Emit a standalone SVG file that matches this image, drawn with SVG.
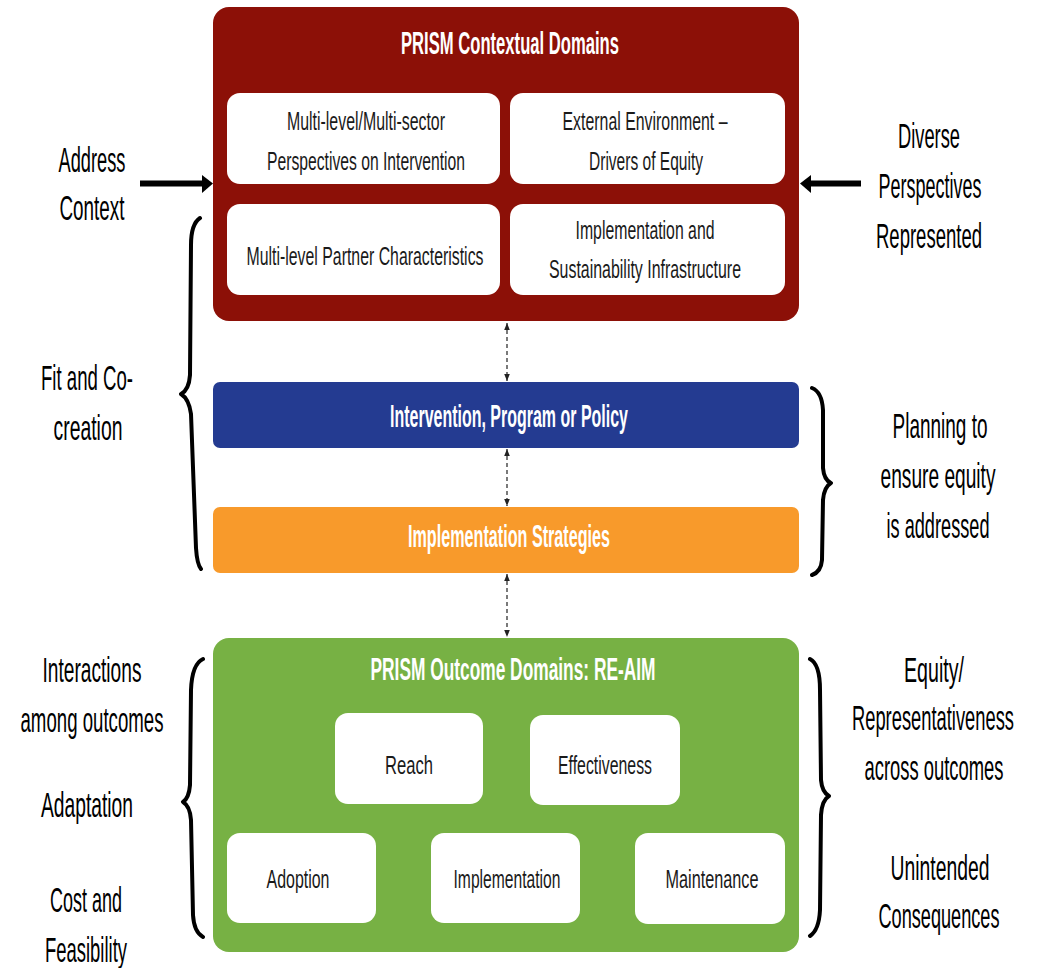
<svg xmlns="http://www.w3.org/2000/svg" width="1038" height="968" viewBox="0 0 1038 968">
<defs>
<style>
text{font-family:"Liberation Sans",Arial,sans-serif;text-anchor:middle}
.side{font-size:35px;fill:#000}
.box{font-size:26px;fill:#1a1a1a}
.ttl{font-size:32px;font-weight:bold;fill:#fff}
.wbox{fill:#fff}
.brace{fill:none;stroke:#000;stroke-width:4;stroke-linecap:round;stroke-linejoin:round}
.dash{stroke:#333;stroke-width:1.3;stroke-dasharray:4 3;fill:none}
</style>
<marker id="ah" viewBox="0 0 10 10" refX="10" refY="5" markerWidth="7" markerHeight="10" markerUnits="userSpaceOnUse" orient="auto-start-reverse">
<path d="M0,1 L10,5 L0,9 z" fill="#222"/>
</marker>
</defs>
<rect width="1038" height="968" fill="#fff"/>

<g id="contextual-domains">
<rect x="213" y="7" width="586" height="314" rx="16" fill="#8C1007"/>
<text class="ttl" x="510" y="54" textLength="218" lengthAdjust="spacingAndGlyphs">PRISM Contextual Domains</text>
</g>
<g id="box-multilevel-perspectives">
<rect class="wbox" x="227" y="93" width="273" height="91" rx="13"/>
<text class="box" x="366" y="130" textLength="158" lengthAdjust="spacingAndGlyphs">Multi-level/Multi-sector</text>
<text class="box" x="366" y="170" textLength="198" lengthAdjust="spacingAndGlyphs">Perspectives on Intervention</text>
</g>
<g id="box-external-environment">
<rect class="wbox" x="510" y="93" width="275" height="91" rx="13"/>
<text class="box" x="645" y="130" textLength="165" lengthAdjust="spacingAndGlyphs">External Environment –</text>
<text class="box" x="646" y="170" textLength="114" lengthAdjust="spacingAndGlyphs">Drivers of Equity</text>
</g>
<g id="box-partner-characteristics">
<rect class="wbox" x="227" y="204" width="273" height="91" rx="13"/>
<text class="box" x="365" y="265" textLength="237" lengthAdjust="spacingAndGlyphs">Multi-level Partner Characteristics</text>
</g>
<g id="box-infrastructure">
<rect class="wbox" x="510" y="204" width="275" height="91" rx="13"/>
<text class="box" x="645" y="239" textLength="139" lengthAdjust="spacingAndGlyphs">Implementation and</text>
<text class="box" x="645" y="278" textLength="192" lengthAdjust="spacingAndGlyphs">Sustainability Infrastructure</text>
</g>

<g id="intervention">
<rect x="213" y="382" width="586" height="66" rx="7" fill="#243B91"/>
<text class="ttl" x="509" y="427" textLength="238" lengthAdjust="spacingAndGlyphs">Intervention, Program or Policy</text>
</g>
<g id="strategies">
<rect x="213" y="507" width="586" height="66" rx="7" fill="#F89A2B"/>
<text class="ttl" x="509" y="547" textLength="202" lengthAdjust="spacingAndGlyphs">Implementation Strategies</text>
</g>

<g id="outcome-domains">
<rect x="213" y="638" width="586" height="314" rx="16" fill="#77B144"/>
<text class="ttl" x="513" y="680" textLength="285" lengthAdjust="spacingAndGlyphs">PRISM Outcome Domains: RE-AIM</text>
</g>
<g id="reach">
<rect class="wbox" x="335" y="713" width="148" height="91" rx="13"/>
<text class="box" x="409" y="774" textLength="48" lengthAdjust="spacingAndGlyphs">Reach</text>
</g>
<g id="effectiveness">
<rect class="wbox" x="530" y="715" width="150" height="90" rx="13"/>
<text class="box" x="605" y="774" textLength="94" lengthAdjust="spacingAndGlyphs">Effectiveness</text>
</g>
<g id="adoption">
<rect class="wbox" x="227" y="833" width="149" height="90" rx="13"/>
<text class="box" x="298" y="888" textLength="63" lengthAdjust="spacingAndGlyphs">Adoption</text>
</g>
<g id="implementation">
<rect class="wbox" x="431" y="833" width="149" height="90" rx="13"/>
<text class="box" x="507" y="888" textLength="107" lengthAdjust="spacingAndGlyphs">Implementation</text>
</g>
<g id="maintenance">
<rect class="wbox" x="635" y="833" width="150" height="91" rx="13"/>
<text class="box" x="712" y="888" textLength="93" lengthAdjust="spacingAndGlyphs">Maintenance</text>
</g>

<g id="label-address-context">
<text class="side" x="92" y="172" textLength="67" lengthAdjust="spacingAndGlyphs">Address</text>
<text class="side" x="92" y="220" textLength="65" lengthAdjust="spacingAndGlyphs">Context</text>
</g>
<g id="label-diverse-perspectives">
<text class="side" x="929" y="148" textLength="62" lengthAdjust="spacingAndGlyphs">Diverse</text>
<text class="side" x="930" y="198" textLength="103" lengthAdjust="spacingAndGlyphs">Perspectives</text>
<text class="side" x="929" y="248" textLength="106" lengthAdjust="spacingAndGlyphs">Represented</text>
</g>
<g id="label-fit">
<text class="side" x="87" y="390" textLength="92" lengthAdjust="spacingAndGlyphs">Fit and Co-</text>
<text class="side" x="88" y="440" textLength="69" lengthAdjust="spacingAndGlyphs">creation</text>
</g>
<g id="label-planning">
<text class="side" x="940" y="438" textLength="95" lengthAdjust="spacingAndGlyphs">Planning to</text>
<text class="side" x="938" y="488" textLength="115" lengthAdjust="spacingAndGlyphs">ensure equity</text>
<text class="side" x="938" y="538" textLength="103" lengthAdjust="spacingAndGlyphs">is addressed</text>
</g>
<g id="label-left-outcomes">
<text class="side" x="92" y="682" textLength="99" lengthAdjust="spacingAndGlyphs">Interactions</text>
<text class="side" x="92" y="732" textLength="143" lengthAdjust="spacingAndGlyphs">among outcomes</text>
<text class="side" x="87" y="817" textLength="92" lengthAdjust="spacingAndGlyphs">Adaptation</text>
<text class="side" x="86" y="912" textLength="72" lengthAdjust="spacingAndGlyphs">Cost and</text>
<text class="side" x="86" y="962" textLength="82" lengthAdjust="spacingAndGlyphs">Feasibility</text>
</g>
<g id="label-right-outcomes">
<text class="side" x="934" y="682" textLength="60" lengthAdjust="spacingAndGlyphs">Equity/</text>
<text class="side" x="933" y="730" textLength="162" lengthAdjust="spacingAndGlyphs">Representativeness</text>
<text class="side" x="934" y="780" textLength="139" lengthAdjust="spacingAndGlyphs">across outcomes</text>
<text class="side" x="940" y="880" textLength="99" lengthAdjust="spacingAndGlyphs">Unintended</text>
<text class="side" x="939" y="928" textLength="121" lengthAdjust="spacingAndGlyphs">Consequences</text>
</g>

<g id="connectors">
<path d="M140,183.5 H204" stroke="#000" stroke-width="6"/>
<path d="M202,175 L213,183.5 L202,193 z" fill="#000"/>
<path d="M861,183.5 H809" stroke="#000" stroke-width="6"/>
<path d="M811,175 L800,183.5 L811,193 z" fill="#000"/>
<path class="dash" d="M507,323 V381" marker-start="url(#ah)" marker-end="url(#ah)"/>
<path class="dash" d="M507,449 V506" marker-start="url(#ah)" marker-end="url(#ah)"/>
<path class="dash" d="M507,574 V637" marker-start="url(#ah)" marker-end="url(#ah)"/>
<path class="brace" d="M200,218 Q191,224 191,245 L190,375 Q189,390 181,394 Q189,399 191,414 L196,548 Q197,564 201,569"/>
<path class="brace" d="M812,388 Q822,392 823,410 L823,468 Q824,480 831,483 Q824,487 823,500 L822,560 Q821,572 812,575"/>
<path class="brace" d="M203,659 Q192,664 191,690 L190,785 Q189,798 183,802 Q190,806 191,820 L193,915 Q194,932 203,937"/>
<path class="brace" d="M810,659 Q820,664 820,690 L821,780 Q822,792 829,796 Q822,800 821,815 L820,910 Q819,930 810,936"/>
</g>
</svg>
